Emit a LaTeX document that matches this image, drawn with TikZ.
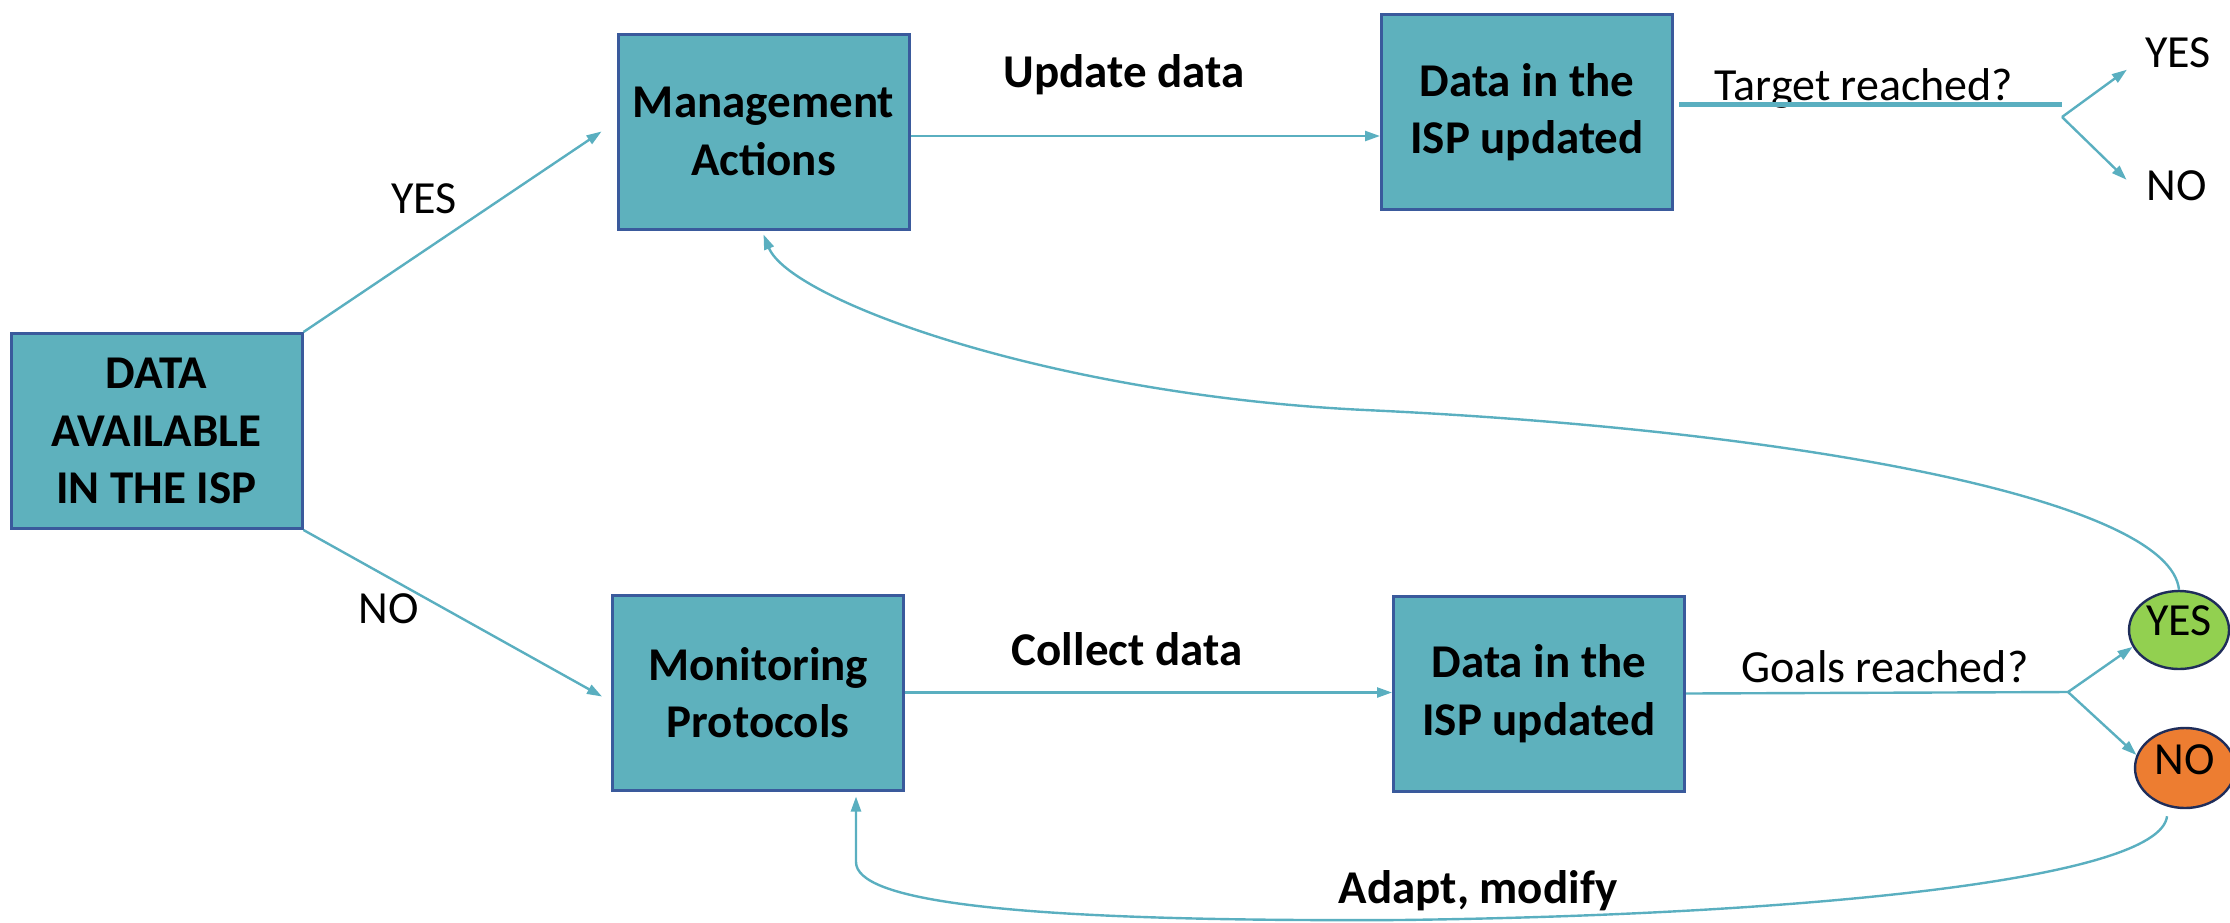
\documentclass[tikz,border=0pt]{standalone}
\usepackage{fontspec}
\setmainfont{Carlito}
\usetikzlibrary{shapes.geometric,arrows.meta,calc}
\definecolor{boxfill}{HTML}{5EB1BD}
\definecolor{boxline}{HTML}{3A5A9C}
\definecolor{connc}{HTML}{5AAFC0}
\definecolor{yesgreen}{HTML}{92D050}
\definecolor{noorange}{HTML}{ED7D31}
\definecolor{circline}{HTML}{1F2D5A}
\begin{document}
\begin{tikzpicture}[x=0.5pt,y=-0.5pt,
  box/.style={draw=boxline,line width=1.5pt,fill=boxfill,minimum width=145.5pt,minimum height=97.5pt,inner sep=0pt,align=center,font=\fontsize{23.5}{28.75}\selectfont\bfseries},
  lbl/.style={font=\fontsize{23}{28}\selectfont,anchor=base,inner sep=0pt},
  blbl/.style={font=\fontsize{23.5}{28}\selectfont\bfseries,anchor=base,inner sep=0pt},
  connl/.style={draw=connc,line width=1.2pt,-{Triangle[length=7.5pt,width=5pt]}},
  plainl/.style={draw=connc,line width=1.2pt},
  circ/.style={ellipse,draw=circline,line width=1.2pt,inner sep=0pt,font=\fontsize{23}{28}\selectfont,text height=14.5pt}
]
\useasboundingbox (0,0) rectangle (2230,922);

% boxes
\node[box] (data) at (156.5,431) {DATA\\AVAILABLE\\IN THE ISP};
\node[box] (mgmt) at (763.5,131.5) {Management\\Actions};
\node[box] (mon) at (758,692.5) {Monitoring\\Protocols};
\node[box] (isp1) at (1527,112) {Data in the\\ISP updated};
\node[box] (isp2) at (1539,693.5) {Data in the\\ISP updated};

% circles
\node[circ,fill=yesgreen,minimum width=50pt,minimum height=39pt,text depth=9pt] (yesc) at (2179,630) {YES};
\node[circ,fill=noorange,minimum width=50pt,minimum height=40pt,text depth=8pt] (noc) at (2185,768) {NO};

% labels
\node[lbl] (yesl) at (424,213) {YES};
\node[lbl] (nol) at (389,623) {NO};
\node[blbl] (upd) at (1124,87) {Update data};
\node[blbl] (col) at (1127,665) {Collect data};
\node[lbl] (tgt) at (1864,100) {Target reached?};
\node[lbl] (goal) at (1885,682) {Goals reached?};
\node[blbl] (adapt) at (1478,903) {Adapt, modify};
\node[lbl] (y1) at (2178,67) {YES};
\node[lbl] (n1) at (2177,200) {NO};

% connectors from DATA
\draw[connl] (data.north east) -- ([xshift=-7.5pt]mgmt.west);
\draw[connl] (data.south east) -- ($(mon.west)+(-9,4)$);

% top row
\coordinate (m1) at ([yshift=-2.25pt]mgmt.east);
\draw[connl] (m1) -- (m1 -| isp1.west);
\coordinate (t0) at ($(isp1.east)+(5,-8)$);
\coordinate (t1) at (2062,104);
\coordinate (b1) at (2062,117);
\draw[plainl,line width=2.5pt] (t0) -- (t1);
\draw[connl] (b1) -- ($(y1.south west)+(-18,2)$);
\draw[connl] (b1) -- ($(n1.north west)+(-20,10)$);

% bottom row
\draw[connl] (mon.east) -- (mon.east -| isp2.west);
\coordinate (b2) at (2068,692);
\draw[plainl] (isp2.east) -- (b2);
\draw[connl] (b2) -- (yesc.200);
\draw[connl] (b2) -- (noc.165);

% feedback YES -> Management Actions
\draw[connl] (yesc.north) .. controls (2170,500) and (1800,430) .. (1365,410)
  .. controls (1050,395) and (790,300) .. ([yshift=-2pt]mgmt.south);

% feedback NO -> Monitoring Protocols
\coordinate (c2) at (856,862);
\coordinate (c3) at (c2 |- mon.south);
\draw[connl] ($(noc.south)+(-18,7)$) .. controls (2160,880) and (1800,915) .. (1400,920)
  .. controls (1000,922) and (856,900) .. (c2) -- ([yshift=-2.5pt]c3);
\end{tikzpicture}
\end{document}
